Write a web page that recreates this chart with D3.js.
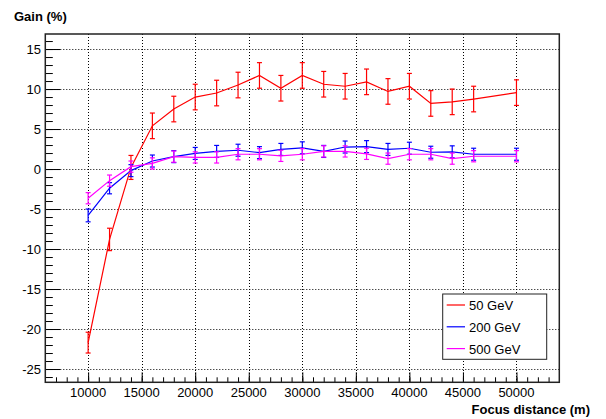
<!DOCTYPE html>
<html>
<head>
<meta charset="utf-8">
<script src="https://cdn.jsdelivr.net/npm/d3@7"></script>
<style>
  body { margin: 0; background: #fff; }
  text { font-family: "Liberation Sans", Arial, sans-serif; }
</style>
</head>
<body>
<div class="chart"></div>
<script>
// focus distance (m)
const distances = [10000, 12000, 14000, 16000, 18000, 20000, 22000, 24000, 26000, 28000,
  30000, 32000, 34000, 36000, 38000, 40000, 42000, 44000, 46000, 50000];

// gain (%) per beam energy
const gain50 = [-21.7, -8.8, 0.2, 5.4, 7.5, 9.0, 9.5, 10.5, 11.7, 10.1,
  11.7, 10.6, 10.35, 10.9, 9.7, 10.35, 8.2, 8.4, 8.75, 9.55];
const err50 = [1.3, 1.4, 1.5, 1.6, 1.6, 1.6, 1.6, 1.6, 1.6, 1.6,
  1.6, 1.6, 1.6, 1.6, 1.6, 1.6, 1.6, 1.6, 1.6, 1.6];

const gain200 = [-5.8, -2.4, -0.2, 1.0, 1.55, 1.95, 2.2, 2.35, 2.05, 2.45,
  2.65, 2.2, 2.75, 2.8, 2.45, 2.6, 2.1, 2.15, 1.85, 1.85];
const err200 = [0.8, 0.7, 0.75, 0.75, 0.75, 0.75, 0.75, 0.75, 0.75, 0.75,
  0.75, 0.75, 0.75, 0.75, 0.75, 0.75, 0.75, 0.75, 0.75, 0.75];

const gain500 = [-3.65, -1.45, 0.3, 0.7, 1.55, 1.45, 1.45, 1.85, 1.85, 1.65,
  1.85, 2.2, 2.2, 1.9, 1.3, 1.85, 1.85, 1.3, 1.6, 1.6];
const err500 = [0.7, 0.7, 0.7, 0.7, 0.7, 0.7, 0.7, 0.7, 0.7, 0.7,
  0.7, 0.7, 0.7, 0.7, 0.7, 0.7, 0.7, 0.7, 0.7, 0.7];

const seriesNames = ["50 GeV", "200 GeV", "500 GeV"];
const seriesColors = ["#ff0000", "#0000ff", "#ff00ff"];

const xTicks = [10000, 15000, 20000, 25000, 30000, 35000, 40000, 45000, 50000];
const yTicks = [-25, -20, -15, -10, -5, 0, 5, 10, 15];

const w = 606;
const h = 419;
const frameL = 45.3, frameR = 559.3, frameT = 34, frameB = 382.3;

const series = [
  { name: seriesNames[0], color: seriesColors[0], vals: gain50, errs: err50 },
  { name: seriesNames[1], color: seriesColors[1], vals: gain200, errs: err200 },
  { name: seriesNames[2], color: seriesColors[2], vals: gain500, errs: err500 }
];

const xScale = d3.scaleLinear().domain([6000, 54000]).range([frameL, frameR]);
const yScale = d3.scaleLinear().domain([-26.66, 16.88]).range([frameB, frameT]);

const svg = d3.select(".chart").append("svg")
  .attr("width", w)
  .attr("height", h)
  .style("display", "block");

svg.append("rect").attr("width", w).attr("height", h).attr("fill", "#fff");

// dotted grid
const grid = svg.append("g").attr("stroke", "#000").attr("stroke-width", 1)
  .attr("stroke-dasharray", "1,2");
grid.selectAll(".gx").data(xTicks).enter().append("line")
  .attr("x1", (d) => Math.round(xScale(d)) + 0.5)
  .attr("x2", (d) => Math.round(xScale(d)) + 0.5)
  .attr("y1", frameT).attr("y2", frameB);
grid.selectAll(".gy").data(yTicks).enter().append("line")
  .attr("y1", (d) => Math.round(yScale(d)) + 0.5)
  .attr("y2", (d) => Math.round(yScale(d)) + 0.5)
  .attr("x1", frameL).attr("x2", frameR);

// axes, ticks drawn inward like ROOT
const xAxis = d3.axisTop(xScale).tickValues(xTicks).tickSize(10).tickFormat("");
const xMinor = d3.axisTop(xScale).tickValues(d3.range(7000, 54000, 1000)).tickSize(5).tickFormat("");
const yAxis = d3.axisRight(yScale).tickValues(yTicks).tickSize(15).tickFormat("");
const yMinor = d3.axisRight(yScale).tickValues(d3.range(-26, 17, 1)).tickSize(7.5).tickFormat("");

[xAxis, xMinor].forEach((ax) => {
  svg.append("g").attr("transform", "translate(0," + frameB + ")").call(ax)
    .call((g) => g.select(".domain").remove());
});
[yAxis, yMinor].forEach((ax) => {
  svg.append("g").attr("transform", "translate(" + frameL + ",0)").call(ax)
    .call((g) => g.select(".domain").remove());
});

svg.selectAll(".xlab").data(xTicks).enter().append("text")
  .attr("x", (d) => xScale(d))
  .attr("y", 397)
  .attr("text-anchor", "middle")
  .style("font-size", "13px")
  .text((d) => d);
svg.selectAll(".ylab").data(yTicks).enter().append("text")
  .attr("x", 41)
  .attr("y", (d) => yScale(d) + 4.5)
  .attr("text-anchor", "end")
  .style("font-size", "13px")
  .text((d) => d);

// frame
svg.append("rect")
  .attr("x", frameL).attr("y", frameT)
  .attr("width", frameR - frameL).attr("height", frameB - frameT)
  .attr("fill", "none").attr("stroke", "#222").attr("stroke-width", 1.5);

// series
const line = d3.line().x((d) => xScale(d[0])).y((d) => yScale(d[1]));
series.forEach((s) => {
  const pts = distances.map((x, i) => [x, s.vals[i], s.errs[i]]);
  const g = svg.append("g").attr("stroke", s.color).attr("fill", "none").attr("stroke-width", 1.2);
  g.append("path").attr("d", line(pts));
  const bars = g.selectAll(".err").data(pts).enter().append("g");
  bars.append("line")
    .attr("x1", (d) => xScale(d[0])).attr("x2", (d) => xScale(d[0]))
    .attr("y1", (d) => yScale(d[1] - d[2])).attr("y2", (d) => yScale(d[1] + d[2]));
  [-1, 1].forEach((sgn) => {
    bars.append("line")
      .attr("x1", (d) => xScale(d[0]) - 2.5).attr("x2", (d) => xScale(d[0]) + 2.5)
      .attr("y1", (d) => yScale(d[1] + sgn * d[2])).attr("y2", (d) => yScale(d[1] + sgn * d[2]));
  });
});

// axis titles
svg.append("text").attr("x", 14).attr("y", 21)
  .style("font-size", "13px").style("font-weight", "bold").text("Gain (%)");
svg.append("text").attr("x", 590).attr("y", 414).attr("text-anchor", "end")
  .style("font-size", "13px").style("font-weight", "bold").text("Focus distance (m)");

// legend
const legend = svg.append("g").attr("id", "legend");
legend.append("rect")
  .attr("x", 442.7).attr("y", 294).attr("width", 104).attr("height", 65.3)
  .attr("fill", "#fff").attr("stroke", "#222").attr("stroke-width", 1);
series.forEach((s, i) => {
  const cy = 305 + i * 21.8;
  legend.append("line")
    .attr("x1", 446.7).attr("x2", 465).attr("y1", cy).attr("y2", cy)
    .attr("stroke", s.color).attr("stroke-width", 1.2);
  legend.append("text")
    .attr("x", 469).attr("y", cy + 5)
    .style("font-size", "13px")
    .text(s.name);
});
</script>
</body>
</html>
